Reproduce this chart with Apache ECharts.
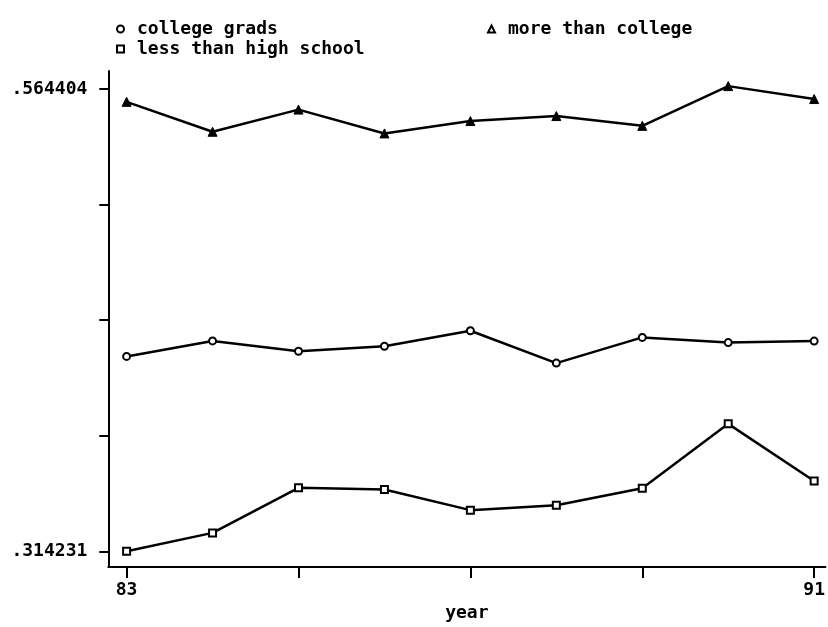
<!DOCTYPE html>
<html>
<head>
<meta charset="utf-8">
<script src="https://cdn.jsdelivr.net/npm/echarts@6/dist/echarts.min.js"></script>
<style>
html,body{margin:0;padding:0;background:#fff;}
#chart{width:828px;height:627px;}
</style>
</head>
<body>
<div id="chart"></div>
<script>
// ---- data ----
var years = [83, 84, 85, 86, 87, 88, 89, 90, 91];
var collegeGrads = [0.4197, 0.4281, 0.4225, 0.4252, 0.4336, 0.4161, 0.4300, 0.4272, 0.4280];
var moreThanCollege = [0.5575, 0.5413, 0.5533, 0.5404, 0.5471, 0.5498, 0.5445, 0.5660, 0.5590];
var lessThanHighSchool = [0.314231, 0.3242, 0.3486, 0.3477, 0.3365, 0.3391, 0.3484, 0.3832, 0.3523];
var yTickValues = [0.314231, 0.37677425, 0.4393175, 0.50186075, 0.564404];
var yLabelValues = [0.314231, 0.564404];
var yLabelTexts = ['.314231', '.564404'];
var xTickValues = [83, 85, 87, 89, 91];
var xLabelValues = [83, 91];

function pairs(vals) {
  return years.map(function (y, i) { return [y, vals[i]]; });
}

var FONT = '"DejaVu Sans Mono", "Liberation Mono", monospace';
var chart = echarts.init(document.getElementById('chart'), null, {renderer: 'canvas'});

function legendDef(name, icon, left, top, fill) {
  return {
    data: [{name: name, icon: icon,
            itemStyle: {color: fill, borderColor: '#000', borderWidth: 2}}],
    left: left, top: top,
    itemWidth: 7, itemHeight: 7,
    selectedMode: false,
    textStyle: {fontFamily: FONT, fontSize: 18, fontWeight: 'bold', color: '#000', padding: [0, 0, 0, 8]}
  };
}

var option = {
  backgroundColor: '#fff',
  animation: false,
  legend: [
    legendDef('college grads', 'circle', 111, 15, '#fff'),
    legendDef('less than high school', 'rect', 111, 35, '#fff'),
    legendDef('more than college', 'triangle', 482, 15, '#fff')
  ],
  grid: {left: 108.3, right: 0, top: 71, bottom: 53.7, containLabel: false},
  xAxis: {
    type: 'value',
    min: 82.787, max: 91.131,
    name: 'year', nameLocation: 'middle', nameGap: 32,
    nameTextStyle: {fontFamily: FONT, fontSize: 18, fontWeight: 'bold', color: '#000'},
    axisLine: {show: true, lineStyle: {color: '#000', width: 2}},
    axisTick: {show: true, length: 11, lineStyle: {color: '#000', width: 2}, customValues: xTickValues},
    axisLabel: {show: true, margin: 14, fontFamily: FONT, fontSize: 18, fontWeight: 'bold', color: '#000',
                customValues: xLabelValues},
    splitLine: {show: false}
  },
  yAxis: {
    type: 'value',
    min: 0.305678, max: 0.574186,
    axisLine: {show: true, lineStyle: {color: '#000', width: 2}},
    axisTick: {show: true, length: 9, lineStyle: {color: '#000', width: 2}, customValues: yTickValues},
    axisLabel: {show: true, margin: 21, fontFamily: FONT, fontSize: 18, fontWeight: 'bold', color: '#000',
                customValues: yLabelValues,
                formatter: function (v) {
                  for (var i = 0; i < yLabelValues.length; i++) {
                    if (Math.abs(v - yLabelValues[i]) < 1e-6) return yLabelTexts[i];
                  }
                  return '';
                }},
    splitLine: {show: false}
  },
  series: [
    {name: 'college grads', type: 'line', data: pairs(collegeGrads),
     symbol: 'emptyCircle', symbolSize: 7, clip: false,
     lineStyle: {color: '#000', width: 2.5},
     itemStyle: {color: '#000', borderColor: '#000', borderWidth: 2.5}},
    {name: 'more than college', type: 'line', data: pairs(moreThanCollege),
     symbol: 'triangle', symbolSize: 9, clip: false,
     lineStyle: {color: '#000', width: 2.5},
     itemStyle: {color: '#000', borderColor: '#000', borderWidth: 1}},
    {name: 'less than high school', type: 'line', data: pairs(lessThanHighSchool),
     symbol: 'emptyRect', symbolSize: 7, clip: false,
     lineStyle: {color: '#000', width: 2.5},
     itemStyle: {color: '#000', borderColor: '#000', borderWidth: 2.5}}
  ]
};
chart.setOption(option);
</script>
</body>
</html>
